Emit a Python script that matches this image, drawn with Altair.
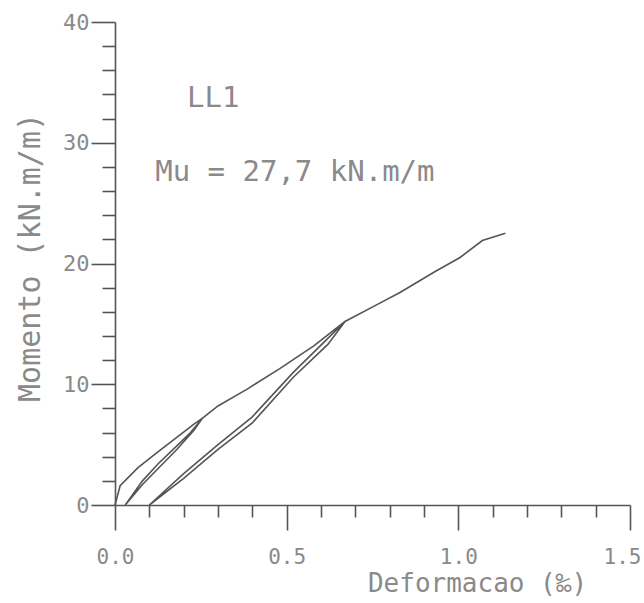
import altair as alt
import pandas as pd

# Strain (per mille) and moment (kN.m/m) along the recorded path, in recording order
deform = [0.0, 0.015, 0.067, 0.125, 0.18, 0.23, 0.255,
          0.23, 0.18, 0.125, 0.08, 0.03,
          0.08, 0.125, 0.18, 0.22, 0.255, 0.3, 0.385, 0.48, 0.58, 0.67,
          0.62, 0.52, 0.4, 0.3, 0.2, 0.1,
          0.2, 0.3, 0.4, 0.52, 0.62, 0.67, 0.77, 0.83, 0.93, 1.005, 1.07, 1.137]
moment = [0.0, 1.6, 3.1, 4.4, 5.6, 6.7, 7.2,
          6.2, 4.6, 3.0, 1.7, 0.0,
          2.0, 3.4, 4.9, 6.0, 7.2, 8.2, 9.6, 11.3, 13.2, 15.2,
          13.3, 10.6, 6.8, 4.6, 2.2, 0.0,
          2.6, 5.0, 7.3, 11.0, 13.8, 15.2, 16.7, 17.6, 19.3, 20.5, 21.9, 22.5]

x_ticks = [0.0, 0.1, 0.2, 0.3, 0.4, 0.5, 0.6, 0.7, 0.8, 0.9, 1.0, 1.1, 1.2, 1.3, 1.4, 1.5]
y_ticks = [0, 2, 4, 6, 8, 10, 12, 14, 16, 18, 20, 22, 24, 26, 28, 30, 32, 34, 36, 38, 40]

notes = ["LL1", "Mu = 27,7 kN.m/m"]
notes_x = [0.21, 0.117]
notes_y = [33.7, 27.6]

df = pd.DataFrame({"x": deform, "y": moment, "i": list(range(len(deform)))})
tdf = pd.DataFrame({"x": notes_x, "y": notes_y, "t": notes})

FONT = "DejaVu Sans Mono"
TXT = "#8a8a8a"
LINE = "#555555"

x_major = "abs(datum.value*2 - round(datum.value*2)) < 0.000001"
y_major = "datum.value % 10 === 0"

xscale = alt.Scale(domain=[0, 1.5], nice=False, zero=False)
yscale = alt.Scale(domain=[0, 40], nice=False, zero=False)

xaxis = alt.Axis(
    values=x_ticks,
    tickCount=100,
    title="Deformacao (‰)",
    labelExpr=f"{x_major} ? format(datum.value, '.1f') : ''",
    tickSize={"condition": {"test": x_major, "value": 25}, "value": 12},
    labelOffset={"condition": {"test": "datum.value > 1.45", "value": -8}, "value": 0},
    labelPadding=16,
    labelFlush=False,
    labelOverlap=False,
    labelFontSize=21,
    titleFontSize=26,
    titleX=362,
    titleY=78,
    titleAlign="center",
    titleBaseline="middle",
    grid=False,
)
yaxis = alt.Axis(
    values=y_ticks,
    tickCount=100,
    title="Momento (kN.m/m)",
    labelExpr=f"{y_major} ? format(datum.value, 'd') : ''",
    tickSize={"condition": {"test": y_major, "value": 24}, "value": 13},
    labelPadding=2,
    labelOverlap=False,
    labelFontSize=22,
    titleFontSize=30,
    titleX=-85,
    titleY=235,
    titleAngle=270,
    titleAlign="center",
    titleBaseline="middle",
    grid=False,
)

curve = alt.Chart(df).mark_line(color=LINE, strokeWidth=1.6).encode(
    x=alt.X("x:Q", scale=xscale, axis=xaxis),
    y=alt.Y("y:Q", scale=yscale, axis=yaxis),
    order="i:Q",
)

text = alt.Chart(tdf).mark_text(
    align="left", baseline="middle", font=FONT, fontSize=29, color=TXT
).encode(
    x=alt.X("x:Q", scale=xscale),
    y=alt.Y("y:Q", scale=yscale),
    text="t:N",
)

chart = alt.layer(curve, text).properties(
    width=515,
    height=483,
    padding={"left": 115, "top": 22, "right": 14, "bottom": 98},
    autosize=alt.AutoSizeParams(type="none"),
    background="white",
).configure_view(stroke=None).configure_axis(
    domainColor=LINE,
    domainWidth=1.6,
    tickColor=LINE,
    tickWidth=1.6,
    labelColor=TXT,
    titleColor=TXT,
    labelFont=FONT,
    titleFont=FONT,
    titleFontWeight="normal",
)

chart.save("out.html", embed_options={"renderer": "svg", "actions": False})
